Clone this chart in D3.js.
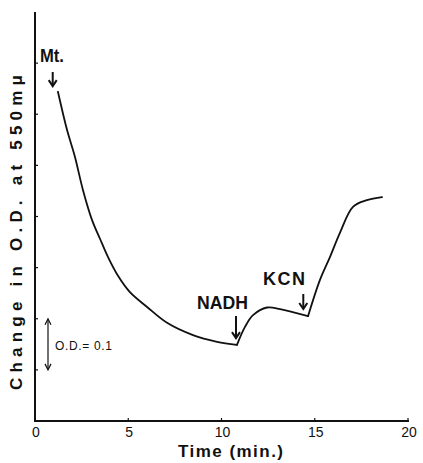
<!DOCTYPE html>
<html>
<head>
<meta charset="utf-8">
<script src="https://cdn.jsdelivr.net/npm/d3@7"></script>
<style>
  body { margin: 0; background: #fff; }
  text { font-family: "Liberation Sans", Arial, sans-serif; fill: #111; }
</style>
</head>
<body>
<div id="chart"></div>
<script>
// values, one list per phase (after Mt., after NADH, after KCN)
const timesMt = [1.23, 1.72, 2.14, 2.57, 3.06, 3.49, 3.91, 4.45, 5.09, 6.01, 7.08, 8.47, 9.76, 10.83];
const odMt = [0.644, 0.569, 0.517, 0.452, 0.393, 0.356, 0.321, 0.284, 0.252, 0.223, 0.192, 0.168, 0.155, 0.149];
const timesNadh = [10.83, 11.26, 11.69, 12.44, 13.14, 14.64];
const odNadh = [0.149, 0.184, 0.207, 0.222, 0.219, 0.205];
const timesKcn = [14.64, 15.28, 15.82, 16.35, 17.05, 17.80, 18.61];
const odKcn = [0.205, 0.276, 0.321, 0.368, 0.419, 0.432, 0.438];
const xTicks = [0, 5, 10, 15, 20];
const yTicks = [0.1, 0.2, 0.3, 0.4, 0.5, 0.6, 0.7];
// additions: label, time, OD at arrow tip
const additions = [
  {name: "Mt.", t: 0.95, v: 0.655},
  {name: "NADH", t: 10.83, v: 0.162},
  {name: "KCN", t: 14.6, v: 0.221}
];

const w = 423, h = 463;
const svg = d3.select("#chart").append("svg")
  .attr("width", w).attr("height", h);

const x = d3.scaleLinear().domain([0, 20]).range([35, 408]);
const y = d3.scaleLinear().domain([0, 0.8]).range([421, 12]);

// axes
svg.append("line").attr("x1", x(0)).attr("x2", x(0)).attr("y1", y(0.8)).attr("y2", y(0))
  .attr("stroke", "#111").attr("stroke-width", 2);
svg.append("line").attr("x1", x(0) - 1).attr("x2", x(20) + 1).attr("y1", y(0)).attr("y2", y(0))
  .attr("stroke", "#111").attr("stroke-width", 2);

svg.selectAll(".ytick").data(yTicks).enter().append("line")
  .attr("x1", x(0)).attr("x2", x(0) + 3)
  .attr("y1", d => y(d)).attr("y2", d => y(d))
  .attr("stroke", "#111").attr("stroke-width", 1.2);

svg.selectAll(".xtick").data(xTicks.slice(1)).enter().append("line")
  .attr("x1", d => x(d)).attr("x2", d => x(d))
  .attr("y1", y(0)).attr("y2", y(0) - 3)
  .attr("stroke", "#111").attr("stroke-width", 1.2);

svg.selectAll(".xlab").data(xTicks).enter().append("text")
  .attr("x", d => x(d) + 1).attr("y", 437)
  .attr("text-anchor", "middle").attr("font-size", 14)
  .text(d => d);

svg.append("text")
  .attr("x", 178).attr("y", 457)
  .attr("font-size", 17).attr("font-weight", "bold")
  .attr("textLength", 105).attr("lengthAdjust", "spacing")
  .text("Time (min.)");

svg.append("text")
  .attr("transform", "translate(22,390) rotate(-90)")
  .attr("font-size", 17).attr("font-weight", "bold")
  .attr("textLength", 315).attr("lengthAdjust", "spacing")
  .text("Change in O.D. at 550mμ");

// trace: each phase smooth, sharp corners at the additions
const line = d3.line().x(d => x(d[0])).y(d => y(d[1])).curve(d3.curveCatmullRom.alpha(0.5));
const phases = [[timesMt, odMt], [timesNadh, odNadh], [timesKcn, odKcn]];
svg.selectAll(".trace").data(phases).enter().append("path")
  .attr("fill", "none").attr("stroke", "#111").attr("stroke-width", 1.8)
  .attr("stroke-linejoin", "round").attr("stroke-linecap", "round")
  .attr("d", p => line(p[0].map((t, i) => [t, p[1][i]])));

// addition arrows and labels
function arrow(cx, yTop, yBot) {
  svg.append("line").attr("x1", cx).attr("x2", cx).attr("y1", yTop).attr("y2", yBot)
    .attr("stroke", "#111").attr("stroke-width", 2);
  svg.append("path")
    .attr("d", `M${cx - 4},${yBot - 6} L${cx},${yBot} L${cx + 4},${yBot - 6}`)
    .attr("fill", "none").attr("stroke", "#111").attr("stroke-width", 2);
}

const a0 = additions[0], a1 = additions[1], a2 = additions[2];
arrow(x(a0.t), 72, y(a0.v));
svg.append("text").attr("x", 40).attr("y", 62)
  .attr("font-size", 18).attr("font-weight", "bold")
  .attr("textLength", 24).attr("lengthAdjust", "spacingAndGlyphs").text(a0.name);

arrow(x(a1.t) - 1, 316, y(a1.v));
svg.append("text").attr("x", 197).attr("y", 309)
  .attr("font-size", 18).attr("font-weight", "bold")
  .attr("textLength", 51).attr("lengthAdjust", "spacingAndGlyphs").text(a1.name);

arrow(x(a2.t) - 4, 294, y(a2.v) + 1);
svg.append("text").attr("x", 263).attr("y", 285)
  .attr("font-size", 18).attr("font-weight", "bold")
  .attr("textLength", 42).attr("lengthAdjust", "spacing").text(a2.name);

// scale bar: O.D. = 0.1
const sx = 48;
svg.append("line").attr("x1", sx).attr("x2", sx).attr("y1", y(0.2) + 1).attr("y2", y(0.1) - 1)
  .attr("stroke", "#111").attr("stroke-width", 1.2);
svg.append("path")
  .attr("d", `M${sx - 3},${y(0.2) + 6} L${sx},${y(0.2)} L${sx + 3},${y(0.2) + 6} M${sx - 3},${y(0.1) - 6} L${sx},${y(0.1)} L${sx + 3},${y(0.1) - 6}`)
  .attr("fill", "none").attr("stroke", "#111").attr("stroke-width", 1.2);
svg.append("text").attr("x", 55).attr("y", 350)
  .attr("font-size", 12).attr("textLength", 57).attr("lengthAdjust", "spacing")
  .text("O.D.= 0.1");
</script>
</body>
</html>
